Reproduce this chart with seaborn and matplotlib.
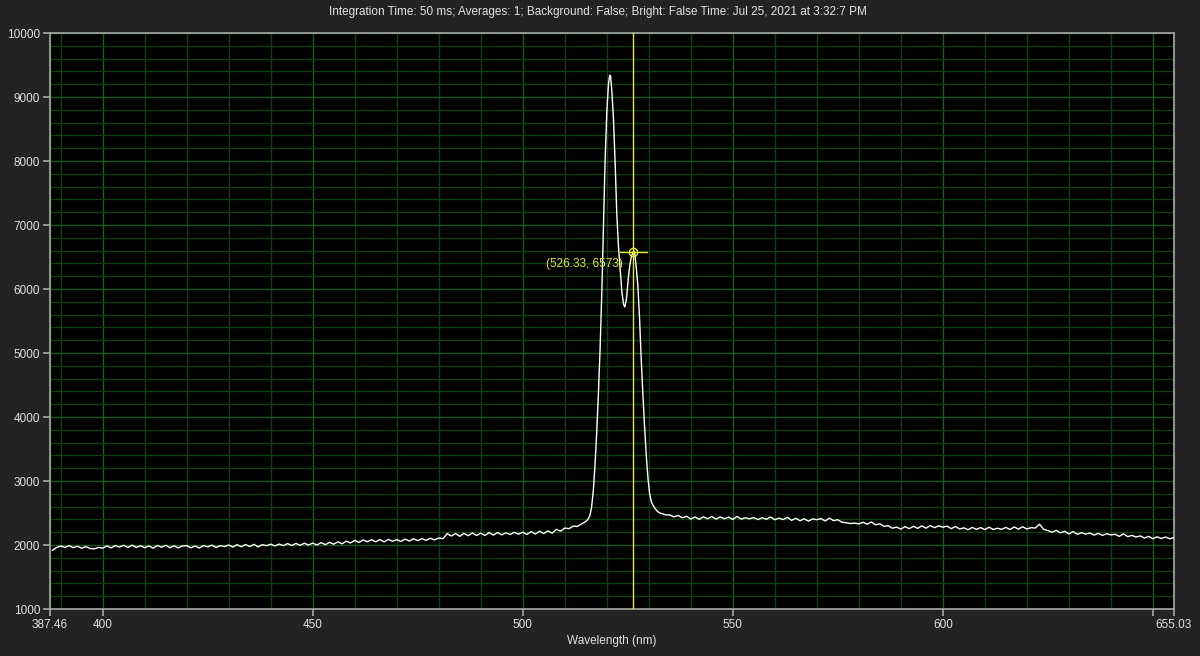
import numpy as np
import pandas as pd
import matplotlib
matplotlib.use("Agg")
import matplotlib.pyplot as plt
from matplotlib.ticker import MultipleLocator, FixedLocator
import seaborn as sns

# ---------------- data ----------------
left_start, left_end = 388, 515
left_counts = [
    1915, 1960, 1985, 1962, 1990, 1958, 1980, 1950, 1975, 1945, 1940, 1962,
    1950, 1985, 1955, 1990, 1968, 1995, 1960, 1998, 1962, 1988,
    1958, 1985, 1950, 1992, 1965, 1995, 1958, 1988, 1955, 1985,
    1990, 1955, 1985, 1952, 1992, 1970, 1998, 1962, 1990, 1975,
    2000, 1968, 2005, 1972, 2008, 1975, 2010, 1970, 2005, 1990,
    2012, 1985, 2015, 1990, 2022, 1992, 2025, 1995, 2028, 2000,
    2030, 2000, 2038, 2005, 2042, 2012, 2050, 2018, 2060, 2032,
    2072, 2040, 2078, 2052, 2082, 2050, 2085, 2048, 2088, 2058,
    2085, 2055, 2092, 2062, 2098, 2068, 2100, 2072, 2105, 2080,
    2110, 2098, 2178, 2140, 2180, 2135, 2182, 2145, 2188, 2148,
    2185, 2150, 2192, 2155, 2195, 2158, 2190, 2165, 2198, 2170,
    2200, 2165, 2210, 2172, 2215, 2180, 2220, 2185, 2245, 2215,
    2265, 2255, 2295, 2290, 2330, 2365,
]

peak_wl = [515.5, 516.0, 516.4, 516.8, 517.2, 517.6, 518.0, 518.4, 518.8, 519.2,
           519.6, 520.0, 520.4, 520.7, 520.9, 521.2, 521.6, 522.0, 522.4, 522.8,
           523.2, 523.6, 524.0, 524.3, 524.7, 525.1, 525.5, 525.9, 526.3, 526.6,
           527.0, 527.4, 527.8, 528.2, 528.6, 529.0, 529.4, 529.8, 530.2, 530.6,
           531.0, 531.5, 532.0, 532.6, 533.2, 534.0]
peak_counts = [2400, 2460, 2600, 2850, 3250, 3750, 4350, 5050, 5900, 6950,
               8000, 8750, 9200, 9340, 9330, 9100, 8650, 7950, 7150, 6650,
               6300, 5950, 5760, 5720, 5850, 6150, 6380, 6520, 6575, 6590,
               6350, 6050, 5550, 4900, 4350, 3850, 3400, 3050, 2800, 2680,
               2620, 2570, 2530, 2500, 2490, 2470]

right_start, right_end = 535, 655
right_counts = [
    2470, 2440, 2462, 2425, 2448, 2405, 2438, 2402, 2440, 2410,
    2445, 2405, 2438, 2410, 2435, 2400, 2445, 2405, 2425, 2410,
    2428, 2398, 2425, 2402, 2438, 2395, 2420, 2398, 2432, 2385,
    2418, 2378, 2410, 2372, 2408, 2395, 2412, 2375, 2420, 2380,
    2395, 2355, 2348, 2335, 2342, 2330, 2355, 2325, 2360, 2315,
    2332, 2290, 2302, 2262, 2280, 2248, 2288, 2255, 2292, 2260,
    2298, 2262, 2305, 2270, 2300, 2278, 2295, 2255, 2290, 2250,
    2268, 2238, 2275, 2245, 2272, 2240, 2278, 2242, 2262, 2245,
    2275, 2242, 2282, 2248, 2285, 2250, 2270, 2265, 2325, 2245,
    2225, 2200, 2228, 2190, 2215, 2172, 2210, 2168, 2192, 2170,
    2188, 2155, 2182, 2150, 2175, 2158, 2168, 2135, 2175, 2130,
    2150, 2125, 2142, 2108, 2135, 2098, 2128, 2102, 2125, 2098, 2115,
]

x_min, x_max = 387.46, 655.03
y_min, y_max = 1000, 10000
x_ticks = [387.46, 400, 450, 500, 550, 600, 650, 655.03]
x_tick_labels = ["387.46", "400", "450", "500", "550", "600", "", "655.03"]
y_ticks = [1000, 2000, 3000, 4000, 5000, 6000, 7000, 8000, 9000, 10000]

cursor_x, cursor_y = 526.33, 6573
title_text = ("Integration Time: 50 ms; Averages: 1; Background: False; "
              "Bright: False Time: Jul 25, 2021 at 3:32:7 PM")

wl = list(range(left_start, left_end + 1)) + peak_wl + list(range(right_start, right_end + 1))
counts = left_counts + peak_counts + right_counts
df = pd.DataFrame({"Wavelength": wl, "Counts": counts})

# ---------------- style ----------------
sns.set_theme(style="dark")
plt.rcParams["font.family"] = ["Liberation Sans", "DejaVu Sans"]

bg = "#232323"
txt = "#e2e2e2"
fig = plt.figure(figsize=(12, 6.56), dpi=100, facecolor=bg)
ax = fig.add_axes([50 / 1200, 1 - 609 / 656, 1124 / 1200, 576 / 656])
ax.set_facecolor("black")

sns.lineplot(data=df, x="Wavelength", y="Counts", ax=ax, color="white",
             linewidth=1.0, sort=False, zorder=5)

ax.set_xlim(x_min, x_max)
ax.set_ylim(y_min, y_max)
ax.xaxis.set_major_locator(FixedLocator(x_ticks))
ax.set_xticklabels(x_tick_labels)
ax.xaxis.set_minor_locator(MultipleLocator(10))
ax.yaxis.set_major_locator(FixedLocator(y_ticks))
ax.yaxis.set_minor_locator(MultipleLocator(200))

for s in ax.spines.values():
    s.set_color("#a8a8a8")
    s.set_linewidth(1.2)

ax.tick_params(which="major", direction="out", length=5, width=1.2,
               color="#a8a8a8", labelcolor=txt, labelsize=8.5, pad=2,
               bottom=True, left=True)
ax.tick_params(which="minor", length=0)

ax.grid(True, which="major", color="#175e17", linewidth=0.95, zorder=0)
ax.grid(True, which="minor", color="#0e400e", linewidth=0.95, zorder=0)
ax.set_axisbelow(True)

ax.set_xlabel("Wavelength (nm)", color=txt, fontsize=8.5, labelpad=3)
ax.set_ylabel("")

# cursor
ax.axvline(cursor_x, color="#e6e62a", linewidth=1.0, zorder=6)
ax.plot([cursor_x - 3.2, cursor_x + 3.3], [cursor_y, cursor_y],
        color="#e6e62a", linewidth=1.0, zorder=7)
ax.plot([cursor_x], [cursor_y], marker="o", markersize=6, markerfacecolor="none",
        markeredgecolor="#e6e62a", markeredgewidth=1.0, zorder=8)
ax.text(cursor_x - 2.6, cursor_y - 180, f"({cursor_x}, {cursor_y})",
        color="#e6e62a", fontsize=8.5, ha="right", va="center", zorder=9)

fig.text(598 / 1200, 1 - 12 / 656, title_text, color=txt, fontsize=8.5,
         ha="center", va="center")

fig.savefig("out.png", dpi=100, facecolor=bg)
